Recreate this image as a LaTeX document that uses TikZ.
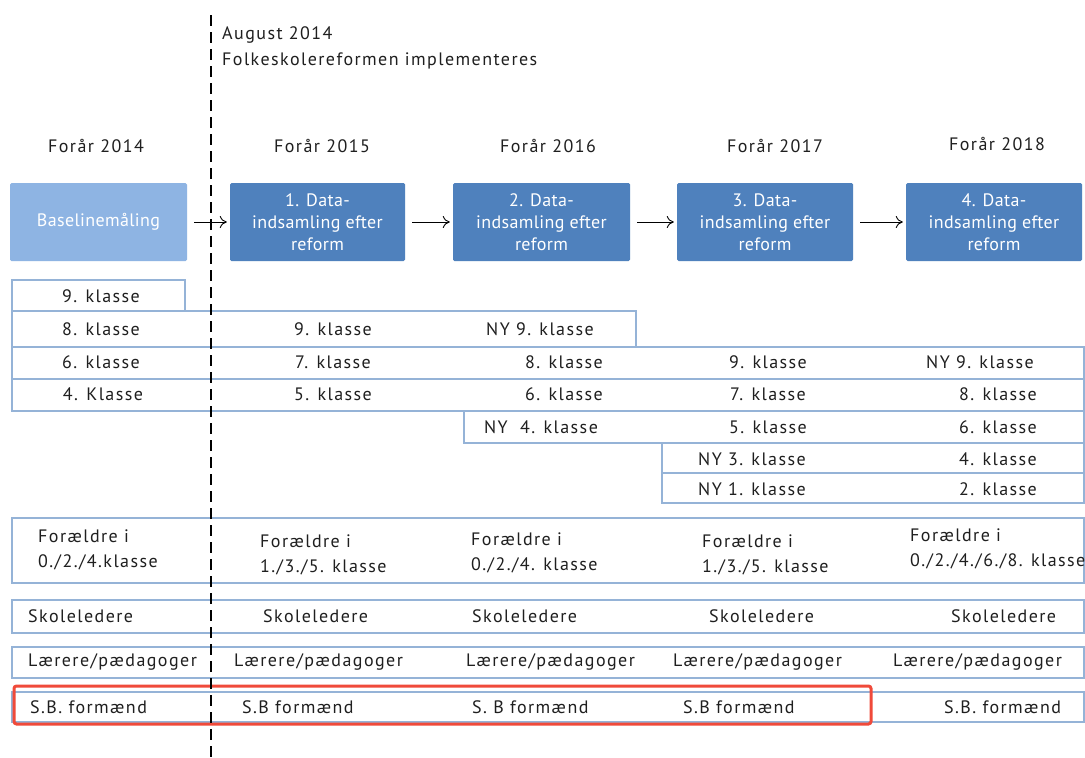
\documentclass[tikz,border=0pt]{standalone}
\usepackage{fontspec}
\setmainfont{PT Sans}
\newfontfamily\dinfont[LetterSpace=8]{PT Sans}
\newfontfamily\boxfont[LetterSpace=2]{PT Sans}
\usetikzlibrary{arrows.meta}
\definecolor{lightbox}{HTML}{8EB4E3}
\definecolor{darkbox}{HTML}{4F81BD}
\definecolor{rowline}{HTML}{95B3D7}
\definecolor{redframe}{HTML}{F04A3A}
\begin{document}
\begin{tikzpicture}[x=1pt,y=-1pt,
  txt/.style={font=\dinfont\fontsize{18}{25}\selectfont, inner sep=0pt, text=black!88},
  ltxt/.style={txt, anchor=west, align=left},
  rowbox/.style={draw=rowline, line width=1.2pt},
  stage/.style={fill=darkbox, text=white, align=center, inner sep=0pt,
    font=\boxfont\fontsize{18}{22}\selectfont, rounded corners=1.5pt,
    minimum height=78pt, minimum width=176pt},
  flow/.style={-{To[length=7pt,width=12pt]}, line width=0.9pt, shorten <=7pt, shorten >=3pt}]
\useasboundingbox (0,0) rectangle (1085,758);
\fill[white] (0,0) rectangle (1085,758);

% header
\node[ltxt] (aug) at (222,35) {August 2014};
\node[ltxt] (reform) at (222,61) {Folkeskolereformen implementeres};

\node[txt] (y14) at (96,146) {Forår 2014};
\node[txt] (y15) at (322,146) {Forår 2015};
\node[txt] (y16) at (548,146) {Forår 2016};
\node[txt] (y17) at (775,146) {Forår 2017};
\node[txt] (y18) at (997,144) {Forår 2018};

% stage boxes
\node[stage, fill=lightbox, minimum width=177pt] (b0) at (98.5,222) {Baselinemåling};
\node[stage, minimum width=175pt] (b1) at (317.5,222) {1. Data-\\indsamling efter\\reform};
\node[stage, minimum width=177pt] (b2) at (541.5,222) {2. Data-\\indsamling efter\\reform};
\node[stage] (b3) at (765,222) {3. Data-\\indsamling efter\\reform};
\node[stage] (b4) at (994,222) {4. Data-\\indsamling efter\\reform};

\draw[flow] (b0) -- (b1);
\draw[flow] (b1) -- (b2);
\draw[flow] (b2) -- (b3);
\draw[flow] (b3) -- (b4);

% class rows
\draw[rowbox] (12,280) rectangle (185,311);
\draw[rowbox] (12,311) rectangle (636,347);
\draw[rowbox] (12,347) rectangle (1084,379);
\draw[rowbox] (12,379) rectangle (1084,411);
\draw[rowbox] (464,411) rectangle (1084,443);
\draw[rowbox] (662,443) rectangle (1084,473);
\draw[rowbox] (662,473) rectangle (1084,503);

\node[txt] (r1a) at (101,296) {9. klasse};

\node[txt] (r2a) at (101,329) {8. klasse};
\node[txt] (r2b) at (333,329) {9. klasse};
\node[txt] (r2c) at (540,329) {NY 9. klasse};

\node[txt] (r3a) at (101,362) {6. klasse};
\node[txt] (r3b) at (333,362) {7. klasse};
\node[txt] (r3c) at (564,362) {8. klasse};
\node[txt] (r3d) at (768,362) {9. klasse};
\node[txt] (r3e) at (980,362) {NY 9. klasse};

\node[txt] (r4a) at (103,394) {4. Klasse};
\node[txt] (r4b) at (333,394) {5. klasse};
\node[txt] (r4c) at (564,394) {6. klasse};
\node[txt] (r4d) at (768,394) {7. klasse};
\node[txt] (r4e) at (998,394) {8. klasse};

\node[txt] (r5c) at (541,427) {NY~~4. klasse};
\node[txt] (r5d) at (768,427) {5. klasse};
\node[txt] (r5e) at (998,427) {6. klasse};

\node[txt] (r6d) at (752,459) {NY 3. klasse};
\node[txt] (r6e) at (998,459) {4. klasse};

\node[txt] (r7d) at (752,489) {NY 1. klasse};
\node[txt] (r7e) at (998,489) {2. klasse};

% respondent rows
\draw[rowbox] (12,518) rectangle (1084,583);
\draw[rowbox] (12,600) rectangle (1084,633);
\draw[rowbox] (12,647) rectangle (1084,678);
\draw[rowbox] (12,692) rectangle (1084,722);

\node[ltxt] (p1) at (38,550) {Forældre i\\0./2./4.klasse};
\node[ltxt] (p2) at (260,555) {Forældre i\\1./3./5. klasse};
\node[ltxt] (p3) at (471,553) {Forældre i\\0./2./4. klasse};
\node[ltxt] (p4) at (702,555) {Forældre i\\1./3./5. klasse};
\node[ltxt] (p5) at (910,549) {Forældre i\\0./2./4./6./8. klasse};

\node[ltxt] (s1) at (28,616) {Skoleledere};
\node[ltxt] (s2) at (263,616) {Skoleledere};
\node[ltxt] (s3) at (472,616) {Skoleledere};
\node[ltxt] (s4) at (709,616) {Skoleledere};
\node[ltxt] (s5) at (951,616) {Skoleledere};

\node[ltxt] (l1) at (28,662) {Lærere/pædagoger};
\node[ltxt] (l2) at (234,662) {Lærere/pædagoger};
\node[ltxt] (l3) at (466,662) {Lærere/pædagoger};
\node[ltxt] (l4) at (673,662) {Lærere/pædagoger};
\node[ltxt] (l5) at (893,662) {Lærere/pædagoger};

\node[ltxt] (f1) at (30,707) {S.B. formænd};
\node[ltxt] (f2) at (242,707) {S.B formænd};
\node[ltxt] (f3) at (472,707) {S. B formænd};
\node[ltxt] (f4) at (683,707) {S.B formænd};
\node[ltxt] (f5) at (944,707) {S.B. formænd};

% highlight
\draw[redframe, line width=3pt, rounded corners=2.5pt] (14,686) rectangle (871,724);

% reform line
\draw[line width=2.6pt, dash pattern=on 11pt off 6pt] (211,15) -- (211,758);
\end{tikzpicture}
\end{document}
